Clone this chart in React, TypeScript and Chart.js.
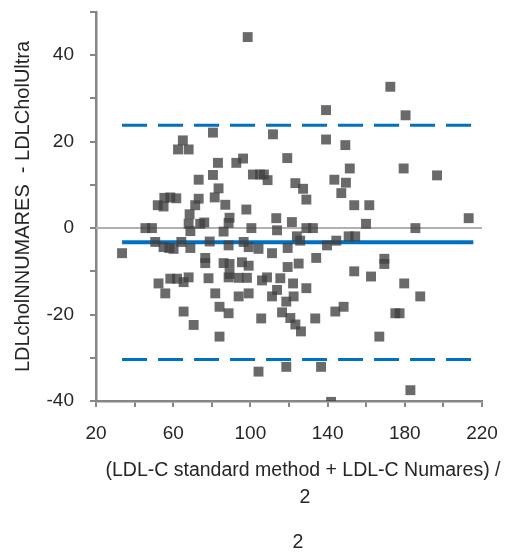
import React, { useEffect, useRef } from 'react';
import { Chart, registerables } from 'chart.js';

Chart.register(...registerables);

// Mean of the two methods (x) and their difference (y)
const averageValues = [
  33.5, 45.6, 49, 50.7, 52.4, 52, 55, 55.4, 58.5, 61.6, 55.9, 55, 58, 60.2, 58.5, 62, 65.4, 68, 62.5, 65, 68, 65.4, 64.2, 68.5, 68, 68.9, 68.9, 70.6, 71.4, 73.2, 73.2, 74,
  76.1, 76.6, 76.6, 78.3, 78.9, 80.6, 80.6, 81.5, 83.5, 83.2, 81.8, 84, 84, 87, 86.1, 86.1, 88.7, 88.7, 89.2, 89.2, 89.2, 88.7, 88.7, 92.7, 93.9, 93.9, 96.2, 96.5, 95.6, 97.9, 98.2, 98.6, 99.1, 99.1, 99.1,
  100.5, 101.3, 104.2, 104.2, 105, 105.6, 106, 107, 108.6, 108.9, 111.2, 111.7, 111.2, 113.4, 113.8, 113.8, 115.5, 116.4, 118.6, 118.6, 119.1, 119.3, 119.3, 121.5, 120.7, 122.1, 122.4, 123.3, 123.3, 124.1, 125,
  125.8, 126.2, 127.3, 129, 129, 129, 132.4, 134.1, 133.6, 136.6, 139.2, 139.2, 139.7, 141.8, 143.5, 144, 144.5, 147.1, 148.3, 149.2, 149.5, 151.5, 150.9, 154.3, 153.8, 153.8,
  159.9, 161.6, 162.5, 166.8, 169.4, 169.4, 172.5, 175.1, 177.3, 179.4, 179.7, 180.4, 182.9, 185.5, 188, 196.7, 213.1,
];
const differenceValues = [
  -5.8, 0, 0, -3.2, -12.8, 5.3, 5.0, 7.0, 7.1, 6.9, -15.1, -4.4, -4.6, -4.8, -11.7, -11.7, -12.5, -11.4, 18.2, 20.3, 18.2, -19.3, -3.2, 3.2, 1.0, -0.7, -4.6, -22.4, 5.3, 6.8, 11.2, 1.0,
  1.3, -6.9, -8.1, -11.6, -3.1, 22.1, 12.3, 7.1, 9.2, 15.1, -15.1, -18.2, -25.1, 5.4, -0.8, -8.1, -4.0, 1.2, 2.4, -8.3, -10.6, -11.4, -19.7, 15.1, -11.5, -15.8, 16.1, -3.2, -7.9, 4.3, -11.5, 44.2, -4.4, -8.7, -15.1,
  0, 12.4, -4.8, -33.2, 12.4, -20.9, -12.1, 12.4, -11.4, 11.1, -5.8, 21.7, -15.8, 2.3, -0.5, -14.3, -11.6, -19.5, -17, -32.1, 16.2, -4.6, -9.0, 1.4, -20.8, -12.8, -15.8, 10.4, -22.3, -1.9, -8.2,
  -2.9, -23.9, 9.1, 6.6, -13.9, 0, 0, -6.9, -20.9, -32.1, 27.3, 20.5, -4.0, -40.2, 11.2, -19.3, -2.9, 8.1, -18.2, 19.2, 10.5, 13.8, -1.9, -1.9, 5.3, -10.0,
  1.0, 5.3, -11.2, -25.1, -7.1, -8.3, 32.7, -19.7, -19.7, 13.8, -12.8, 26.1, -37.5, 0, -15.8, 12.2, 2.3,
];

const meanDifference = -3.3;
const upperLimit = 23.8;
const lowerLimit = -30.4;
const limitLineRange = [33.5, 215.5];
const zeroLineRange = [20, 220];

const xTickLabels = [20, 60, 100, 140, 180, 220];
const yTickLabels = [-40, -20, 0, 20, 40];

const yAxisTitle = 'LDLcholNNUMARES  - LDLCholUltra';
const xAxisTitleLines = ['(LDL-C standard method + LDL-C Numares) /', '2'];
const footerText = '2';

const FONT = '"Liberation Sans", Arial, sans-serif';
const TEXT_COLOR = '#262626';
const AXIS_COLOR = '#868686';
const BLUE = '#0070C0';

const xTitlePlugin = {
  id: 'xTitleText',
  afterDraw(chart: any) {
    const ctx = chart.ctx;
    ctx.save();
    ctx.fillStyle = TEXT_COLOR;
    ctx.font = `19.5px ${FONT}`;
    ctx.textAlign = 'center';
    ctx.textBaseline = 'middle';
    ctx.fillText(xAxisTitleLines[0], 303, 471);
    ctx.fillText(xAxisTitleLines[1], 305, 498);
    ctx.fillText(footerText, 298, 543);
    ctx.restore();
  },
};

export default function App() {
  const canvasRef = useRef<HTMLCanvasElement | null>(null);

  useEffect(() => {
    if (!canvasRef.current) return;
    const points = averageValues.map((x, i) => ({ x, y: differenceValues[i] }));
    const hline = (range: number[], y: number) => range.map((x) => ({ x, y }));

    const chart = new Chart(canvasRef.current, {
      type: 'scatter',
      data: {
        datasets: [
          {
            label: 'Difference',
            data: points,
            pointStyle: 'rect',
            pointRadius: 7,
            pointHoverRadius: 7,
            pointBackgroundColor: 'rgba(64,64,64,0.78)',
            pointBorderWidth: 0,
            pointBorderColor: 'rgba(0,0,0,0)',
          },
          {
            type: 'line',
            label: 'Mean',
            data: hline(limitLineRange, meanDifference),
            borderColor: BLUE,
            borderWidth: 4,
            pointRadius: 0,
            fill: false,
          } as any,
          {
            type: 'line',
            label: 'Upper limit',
            data: hline(limitLineRange, upperLimit),
            borderColor: BLUE,
            borderWidth: 3,
            borderDash: [25, 11],
            pointRadius: 0,
            fill: false,
          } as any,
          {
            type: 'line',
            label: 'Lower limit',
            data: hline(limitLineRange, lowerLimit),
            borderColor: BLUE,
            borderWidth: 3,
            borderDash: [25, 11],
            pointRadius: 0,
            fill: false,
          } as any,
          {
            type: 'line',
            label: 'Zero',
            data: hline(zeroLineRange, 0),
            borderColor: '#B0B0B0',
            borderWidth: 2,
            pointRadius: 0,
            fill: false,
          } as any,
        ],
      },
      options: {
        responsive: false,
        animation: false,
        layout: { padding: { top: 12, right: 25, bottom: 0, left: 0 } },
        plugins: {
          legend: { display: false },
          tooltip: { enabled: false },
          title: { display: false },
        },
        scales: {
          x: {
            type: 'linear',
            min: 20,
            max: 220,
            afterFit: (s: any) => {
              s.height = 156;
              s.paddingLeft = 0;
              s.paddingRight = 0;
            },
            ticks: {
              stepSize: 20,
              autoSkip: false,
              maxRotation: 0,
              padding: 15,
              color: TEXT_COLOR,
              font: { family: FONT, size: 19 },
              callback: (v: any) => (xTickLabels.includes(Number(v)) ? String(v) : ''),
            },
            grid: {
              display: true,
              drawOnChartArea: false,
              drawTicks: true,
              tickLength: 6,
              color: AXIS_COLOR,
              lineWidth: 2,
            },
            border: { display: true, color: AXIS_COLOR, width: 2.5 },
          },
          y: {
            type: 'linear',
            min: -40,
            max: 50,
            afterFit: (s: any) => {
              s.width = 96;
              s.paddingTop = 0;
              s.paddingBottom = 0;
            },
            ticks: {
              stepSize: 10,
              autoSkip: false,
              padding: 16,
              color: TEXT_COLOR,
              font: { family: FONT, size: 19 },
              callback: (v: any) => (yTickLabels.includes(Number(v)) ? String(v) : ''),
            },
            grid: {
              display: true,
              drawOnChartArea: false,
              drawTicks: true,
              tickLength: 6,
              color: AXIS_COLOR,
              lineWidth: 2,
            },
            border: { display: true, color: AXIS_COLOR, width: 2.5 },
            title: {
              display: true,
              text: yAxisTitle,
              color: TEXT_COLOR,
              font: { family: FONT, size: 20 },
              padding: { top: 11, bottom: 0 },
            },
          },
        },
      },
      plugins: [xTitlePlugin],
    });

    return () => chart.destroy();
  }, []);

  return (
    <div style={{ position: 'fixed', left: 0, top: 0, width: 507, height: 557, background: '#fff' }}>
      <canvas ref={canvasRef} width={507} height={557} style={{ display: 'block', width: 507, height: 557 }} />
    </div>
  );
}
